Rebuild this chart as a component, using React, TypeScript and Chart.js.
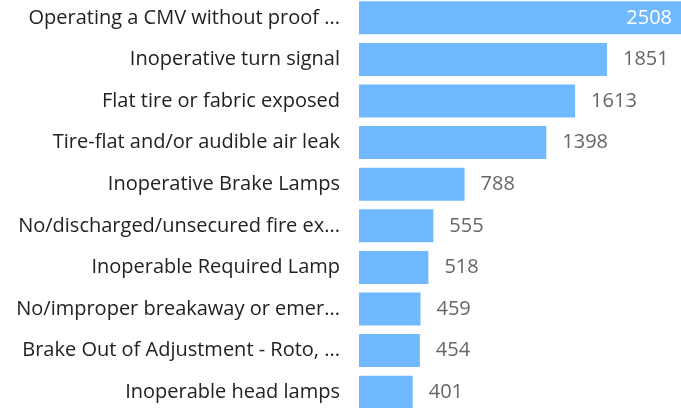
import React, { useEffect, useRef } from "react";
import { Chart, registerables } from "chart.js";

Chart.register(...registerables);

const categories: string[] = [
  "Operating a CMV without proof ...",
  "Inoperative turn signal",
  "Flat tire or fabric exposed",
  "Tire-flat and/or audible air leak",
  "Inoperative Brake Lamps",
  "No/discharged/unsecured fire ex...",
  "Inoperable Required Lamp",
  "No/improper breakaway or emer...",
  "Brake Out of Adjustment - Roto, ...",
  "Inoperable head lamps",
];

const counts: number[] = [2508, 1851, 1613, 1398, 788, 555, 518, 459, 454, 401];

const FONT = "'Open Sans', 'Noto Sans', sans-serif";
const BAR_COLOR = "#70b8ff";

const valueLabels = {
  id: "valueLabels",
  afterDatasetsDraw(chart: any) {
    const ctx = chart.ctx;
    const meta = chart.getDatasetMeta(0);
    const data = chart.data.datasets[0].data as number[];
    ctx.save();
    ctx.font = `20px ${FONT}`;
    ctx.textBaseline = "middle";
    meta.data.forEach((bar: any, i: number) => {
      const text = String(data[i]);
      const w = ctx.measureText(text).width;
      if (bar.x + 16 + w > 681) {
        ctx.fillStyle = "#ffffff";
        ctx.textAlign = "right";
        ctx.fillText(text, bar.x - 23, bar.y);
      } else {
        ctx.fillStyle = "#666666";
        ctx.textAlign = "left";
        ctx.fillText(text, bar.x + 16, bar.y);
      }
    });
    ctx.restore();
  },
};

export default function App() {
  const ref = useRef<HTMLCanvasElement | null>(null);
  useEffect(() => {
    if (!ref.current) return;
    const chart = new Chart(ref.current, {
      type: "bar",
      data: {
        labels: categories,
        datasets: [
          {
            data: counts,
            backgroundColor: BAR_COLOR,
            borderWidth: 0,
            categoryPercentage: 0.8,
            barPercentage: 0.993,
          },
        ],
      },
      options: {
        indexAxis: "y",
        responsive: false,
        animation: false,
        layout: { padding: 0 },
        plugins: { legend: { display: false }, tooltip: { enabled: false } },
        scales: {
          x: { display: false, min: 0, max: 2508 },
          y: {
            grid: { display: false, drawTicks: false },
            border: { display: false },
            ticks: {
              padding: 19,
              color: "#222222",
              font: { size: 20, family: FONT },
            },
            afterFit(scale: any) {
              scale.width = 359;
              scale.paddingTop = 0;
              scale.paddingBottom = 0;
            },
          },
        },
      },
      plugins: [valueLabels],
    });
    return () => chart.destroy();
  }, []);
  return (
    <canvas
      ref={ref}
      width={695}
      height={416}
      style={{ position: "fixed", left: 0, top: -3, width: 695, height: 416 }}
    />
  );
}
